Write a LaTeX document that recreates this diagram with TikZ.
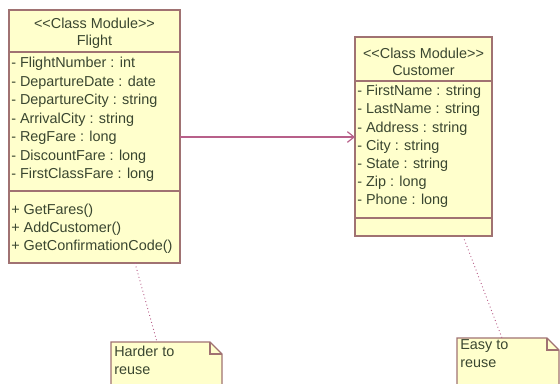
\documentclass[tikz,border=0pt]{standalone}
\usepackage{fontspec}
\setmainfont{Liberation Sans}
\usepackage{tikz}
\usetikzlibrary{arrows.meta, positioning, calc}
\usepackage{xcolor}
\definecolor{boxfill}{HTML}{FFFFCC}
\definecolor{boxline}{HTML}{A07272}
\definecolor{linkline}{HTML}{B8608A}
\definecolor{umltext}{HTML}{3A4630}

\tikzset{
  umlbox/.style={draw=boxline, fill=boxfill, line width=0.9pt},
  umlsep/.style={draw=boxline, line width=0.9pt},
  titletext/.style={font=\fontsize{10.8}{12.8}\selectfont, text=umltext, align=center, inner sep=0pt},
  membertext/.style={font=\fontsize{10.8}{12}\selectfont, text=umltext, anchor=west, inner sep=0pt},
  notelink/.style={draw=linkline, dotted, line width=0.7pt},
}
\newcommand{\stereo}{{<}{<}Class Module{>}{>}}

\begin{document}
\begin{tikzpicture}[x=0.75pt, y=-0.75pt]
        \useasboundingbox (0,0) rectangle (560,383);
        \clip (0,0) rectangle (560,383);
        % Flight
        \draw[umlbox] (9,10) rectangle (180,263);
        \draw[umlsep] (9,52) -- (180,52);
        \draw[umlsep] (9,191) -- (180,191);
        \node[titletext] (flighttitle) at (94.5,33) {\stereo\\Flight};
        \foreach \i/\txt in {0/FlightNumber : int, 1/DepartureDate : date,
          2/DepartureCity : string, 3/ArrivalCity : string, 4/RegFare : long,
          5/DiscountFare : long, 6/FirstClassFare : long}{
          \node[membertext] (fattr\i) at (11,{64+18.5*\i}) {- \txt};
        }
        \foreach \i/\txt in {0/GetFares(), 1/AddCustomer(), 2/GetConfirmationCode()}{
          \node[membertext] (fop\i) at (11,{211+18*\i}) {+ \txt};
        }
        \coordinate (flightE) at (180,137);
        \coordinate (flightS) at (135,263);
        % Customer
        \draw[umlbox] (355,37) rectangle (492,236);
        \draw[umlsep] (355,81) -- (492,81);
        \draw[umlsep] (355,218) -- (492,218);
        \node[titletext] (custtitle) at (423.5,61.5) {\stereo\\Customer};
        \foreach \i/\txt in {0/FirstName : string, 1/LastName : string,
          2/Address : string, 3/City : string, 4/State : string,
          5/Zip : long, 6/Phone : long}{
          \node[membertext] (cattr\i) at (357,{92+18.2*\i}) {- \txt};
        }
        \coordinate (custW) at (355,137);
        \coordinate (custS) at (463,236);
        % association
        \draw[linkline, line width=0.9pt, -{Straight Barb[length=5pt, width=8pt]}] (flightE) -- (custW);
        % notes
        \draw[umlbox] (111,342) -- (210,342) -- (222,354) -- (222,395) -- (111,395) -- cycle;
        \draw[umlsep] (210,342) -- (210,354) -- (222,354);
        \node[membertext] (hardnote) at (114,351) {Harder to};
        \node[membertext] (hardnote2) at (114,371) {reuse};
        \draw[umlbox] (457,338) -- (547,338) -- (559,350) -- (559,395) -- (457,395) -- cycle;
        \draw[umlsep] (547,338) -- (547,350) -- (559,350);
        \node[membertext] (easynote) at (460,346) {Easy to};
        \node[membertext] (easynote2) at (460,364) {reuse};
        \coordinate (hardN) at (157,342);
        \coordinate (easyN) at (502,338);
        \draw[notelink] (flightS) -- (hardN);
        \draw[notelink] (custS) -- (easyN);
      \end{tikzpicture}
\end{document}
